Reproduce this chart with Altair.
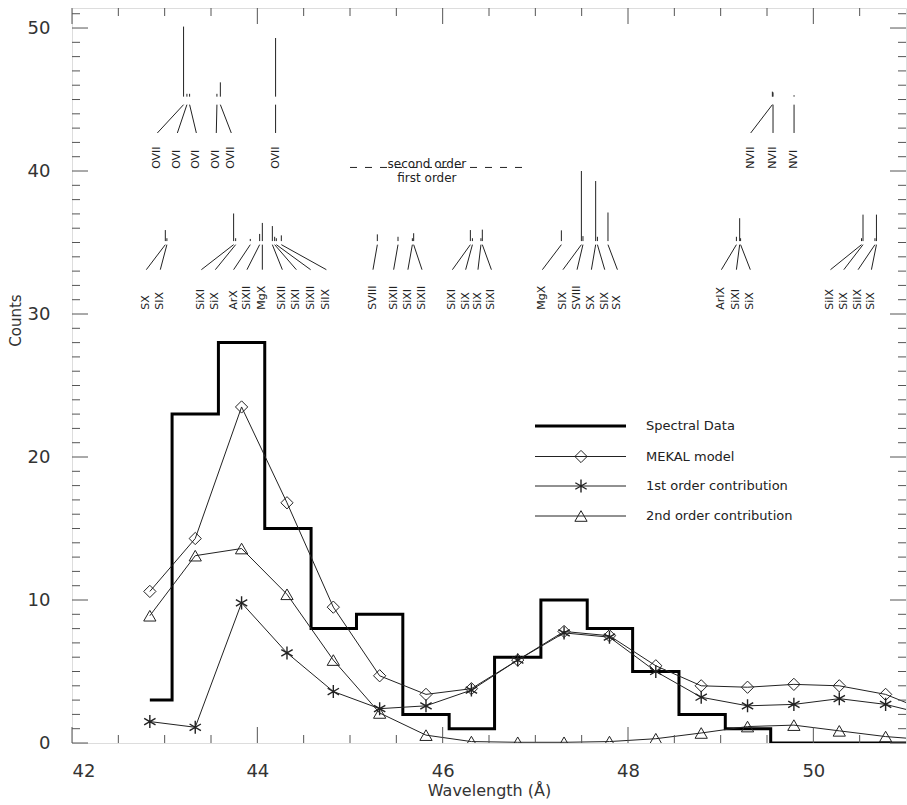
import altair as alt
import pandas as pd

# ---------------- data ----------------
# Spectral data histogram (bin edges in Angstrom, counts per bin)
hist_edges = [42.84, 43.08, 43.58, 44.08, 44.58, 45.07, 45.57, 46.07, 46.56,
              47.06, 47.56, 48.05, 48.55, 49.05, 49.54, 51.0]
hist_counts = [3, 23, 28, 15, 8, 9, 2, 1, 6, 10, 8, 5, 2, 1, 0]

# Model curves
model_wl = [42.84, 43.33, 43.83, 44.32, 44.82, 45.32, 45.82, 46.31, 46.81,
            47.31, 47.80, 48.30, 48.79, 49.29, 49.79, 50.28, 50.78, 51.28]
mekal = [10.6, 14.3, 23.5, 16.8, 9.5, 4.7, 3.4, 3.8, 5.8,
         7.8, 7.5, 5.4, 4.0, 3.9, 4.1, 4.0, 3.4, 2.1]
first_order = [1.5, 1.1, 9.8, 6.3, 3.6, 2.4, 2.6, 3.7, 5.8,
               7.7, 7.4, 5.0, 3.2, 2.6, 2.7, 3.1, 2.7, 1.9]
second_order = [8.9, 13.1, 13.6, 10.4, 5.8, 2.1, 0.55, 0.1, 0.05,
                0.05, 0.1, 0.3, 0.7, 1.15, 1.25, 0.85, 0.45, 0.2]

# Line identifications, second order (upper row)
upper_ion = ["OVII", "OVI", "OVI", "OVI", "OVII", "OVII", "NVII", "NVII", "NVI"]
upper_line_wl = [43.204, 43.240, 43.269, 43.564, 43.601, 44.197, 49.558, 49.565, 49.792]
upper_line_h = [4.9, 0.2, 0.2, 0.2, 1.0, 4.1, 0.35, 0.3, 0.1]
upper_label_wl = [42.921, 43.137, 43.342, 43.557, 43.719, 44.197, 49.324, 49.565, 49.792]

# Line identifications, first order (lower row)
lower_ion = ["SX", "SIX",
             "SiXI", "SiX", "ArX", "SiXII", "MgX", "SiXII", "SiXI", "SiXII", "SiIX",
             "SVIII", "SiXII", "SiXI", "SiXII",
             "SiXI", "SiX", "SiX", "SiXI",
             "MgX", "SIX", "SVIII", "SX", "SIX", "SX",
             "ArIX", "SiXI", "SiX",
             "SiIX", "SiX", "SiIX", "SiX"]
lower_line_wl = [43.007, 43.024,
                 43.744, 43.766, 43.924, 44.025, 44.054, 44.162, 44.187, 44.205, 44.259,
                 45.295, 45.518, 45.673, 45.687,
                 46.299, 46.321, 46.413, 46.428,
                 47.281, 47.497, 47.514, 47.651, 47.670, 47.784,
                 49.170, 49.205, 49.215,
                 50.520, 50.536, 50.665, 50.681]
lower_line_h = [0.77, 0.2,
                1.93, 0.2, 0.15, 0.5, 1.27, 1.05, 0.3, 0.2, 0.4,
                0.47, 0.3, 0.2, 0.55,
                0.77, 0.2, 0.2, 0.8,
                0.75, 4.9, 0.35, 4.2, 0.3, 2.0,
                0.3, 1.6, 0.2,
                0.2, 1.85, 0.2, 1.85]
lower_label_wl = [42.802, 42.953,
                  43.396, 43.547, 43.744, 43.888, 44.054, 44.270, 44.421, 44.575, 44.745,
                  45.248, 45.471, 45.625, 45.777,
                  46.105, 46.248, 46.381, 46.526,
                  47.076, 47.298, 47.450, 47.605, 47.749, 47.886,
                  49.008, 49.170, 49.320,
                  50.185, 50.329, 50.483, 50.627]

order_sep_wl = [45.0, 46.94]
order_sep_text_wl = 45.83
order_texts = ["second order", "first order"]

legend_labels = ["Spectral Data", "MEKAL model", "1st order contribution", "2nd order contribution"]

x_major = [42, 44, 46, 48, 50]
x_minor = [42.5, 43, 43.5, 44.5, 45, 45.5, 46.5, 47, 47.5, 48.5, 49, 49.5, 50.5]
y_major = [0, 10, 20, 30, 40, 50]
y_minor = [v for v in range(0, 52) if v % 10 != 0]

# ---------------- layout constants ----------------
W, H = 834, 735
XDOM, YDOM = [42, 51], [0, 51.4]
FONT = "DejaVu Sans"
INK = "#222222"
FRAME = "#555555"
TXT = "#333333"

UP_BASE, UP_CTOP, UP_CBOT, UP_LAB = 45.2, 44.64, 42.66, 40.15
LO_BASE, LO_CTOP, LO_CBOT, LO_LAB = 35.1, 34.85, 33.1, 30.3
SEP_LEVEL = 40.25

xs = alt.Scale(domain=XDOM, nice=False, zero=False)
ys = alt.Scale(domain=YDOM, nice=False, zero=False)

X_AXIS = alt.Axis(
    values=x_major, title="Wavelength (Å)", ticks=False, tickSize=0, domain=False,
    grid=False, labelFontSize=18, labelPadding=19, labelFont=FONT, labelColor=TXT,
    labelBaseline="top", titleFont=FONT, titleFontSize=16, titleFontWeight="normal",
    titleColor=TXT, titleY=47, titleBaseline="middle")
Y_AXIS = alt.Axis(
    values=y_major, title="Counts", ticks=False, tickSize=0, domain=False,
    grid=False, labelFontSize=18, labelPadding=22, labelFont=FONT, labelColor=TXT,
    labelBaseline="middle", titleFont=FONT, titleFontSize=15, titleFontWeight="normal",
    titleColor=TXT, titleX=-57, titleY=312, titleAngle=270,
    titleBaseline="middle", titleAlign="center")


def X(field):
    return alt.X(field, type="quantitative", scale=xs, axis=X_AXIS)


def Y(field):
    return alt.Y(field, type="quantitative", scale=ys, axis=Y_AXIS)


# ---------------- tables ----------------
hist_df = pd.DataFrame({"wl": hist_edges, "counts": hist_counts + [hist_counts[-1]]})
model_df = pd.DataFrame({"wl": model_wl, "mekal": mekal,
                         "first": first_order, "second": second_order})


def ident_df(ions, lwl, lh, labwl, base, ctop, cbot, lab):
    return pd.DataFrame({
        "ion": ions, "line": lwl, "label": labwl,
        "base": [base] * len(ions),
        "top": [base + h for h in lh],
        "ctop": [ctop] * len(ions), "cbot": [cbot] * len(ions),
        "lab": [lab] * len(ions),
    })


up_df = ident_df(upper_ion, upper_line_wl, upper_line_h, upper_label_wl,
                 UP_BASE, UP_CTOP, UP_CBOT, UP_LAB)
lo_df = ident_df(lower_ion, lower_line_wl, lower_line_h, lower_label_wl,
                 LO_BASE, LO_CTOP, LO_CBOT, LO_LAB)
ids_df = pd.concat([up_df, lo_df], ignore_index=True)

# ---------------- layers ----------------
hist = alt.Chart(hist_df).mark_line(
    interpolate="step-after", color="black", strokeWidth=3, clip=True
).encode(x=X("wl"), y=Y("counts"))


def model_line(field):
    return alt.Chart(model_df).mark_line(color=INK, strokeWidth=1, clip=True).encode(
        x=X("wl"), y=Y(field))


ASTER = "M0,-1L0,1M-0.87,-0.5L0.87,0.5M-0.87,0.5L0.87,-0.5"


def model_pts(field, shape, size, sw=1):
    return alt.Chart(model_df).mark_point(
        shape=shape, size=size, filled=False, color=INK, strokeWidth=sw,
        opacity=1, clip=True
    ).encode(x=X("wl"), y=Y(field))


models = [
    model_line("mekal"), model_pts("mekal", "diamond", 150),
    model_line("first"), model_pts("first", ASTER, 170, 1.4),
    model_line("second"), model_pts("second", "triangle-up", 150),
]

# identification marks
id_base = alt.Chart(ids_df)
id_vert = id_base.mark_rule(color=INK, strokeWidth=1).encode(
    x=X("line"), y=Y("base"), y2="top:Q")
id_conn = id_base.mark_rule(color=INK, strokeWidth=1).encode(
    x=X("line"), x2="label:Q", y=Y("ctop"), y2="cbot:Q")
id_text = id_base.mark_text(
    angle=270, align="left", baseline="middle", font=FONT, fontSize=11, color=INK
).encode(x=X("label"), y=Y("lab"), text="ion:N")

sep_df = pd.DataFrame({"x": [order_sep_wl[0]], "x2": [order_sep_wl[1]], "y": [SEP_LEVEL]})
sep = alt.Chart(sep_df).mark_rule(color=INK, strokeWidth=1, strokeDash=[7, 8]).encode(
    x=X("x"), x2="x2:Q", y=Y("y"))
sep_txt_df = pd.DataFrame({"x": [order_sep_text_wl] * 2, "y": [SEP_LEVEL] * 2,
                           "t": order_texts, "k": ["up", "down"]})
sep_up = alt.Chart(sep_txt_df).transform_filter("datum.k == 'up'").mark_text(
    font=FONT, fontSize=12, color=INK, baseline="alphabetic", dy=1
).encode(x=X("x"), y=Y("y"), text="t:N")
sep_dn = alt.Chart(sep_txt_df).transform_filter("datum.k == 'down'").mark_text(
    font=FONT, fontSize=12, color=INK, baseline="top", dy=6
).encode(x=X("x"), y=Y("y"), text="t:N")


# axis ticks (IDL style, inside the box, on all four sides)
def tick_layer(vals, horizontal_axis, side, length):
    df = pd.DataFrame({"v": vals})
    c = alt.Chart(df).mark_rule(color=FRAME, strokeWidth=1)
    if horizontal_axis:
        y0 = H if side == "bottom" else 0
        y1 = H - length if side == "bottom" else length
        return c.encode(x=X("v"), y=alt.value(y0), y2=alt.value(y1))
    x0 = 0 if side == "left" else W
    x1 = length if side == "left" else W - length
    return c.encode(y=Y("v"), x=alt.value(x0), x2=alt.value(x1))


ticks = []
for side in ["bottom", "top"]:
    ticks.append(tick_layer(x_major, True, side, 16))
    ticks.append(tick_layer(x_minor, True, side, 8))
for side in ["left", "right"]:
    ticks.append(tick_layer(y_major, False, side, 16))
    ticks.append(tick_layer(y_minor, False, side, 8))

# legend (drawn by hand, IDL style)
LEG_X0, LEG_X1, LEG_XM, LEG_XT = 463, 554, 509, 574
LEG_Y = [418, 448.5, 478, 508]
leg_shapes = [None, "diamond", ASTER, "triangle-up"]
one = pd.DataFrame({"a": [0]})
legend = []
for i, lab in enumerate(legend_labels):
    legend.append(alt.Chart(one).mark_rule(
        color="black" if i == 0 else INK, strokeWidth=3 if i == 0 else 1
    ).encode(x=alt.value(LEG_X0), x2=alt.value(LEG_X1), y=alt.value(LEG_Y[i])))
    if leg_shapes[i]:
        legend.append(alt.Chart(one).mark_point(
            shape=leg_shapes[i], size=170 if i == 2 else 150, filled=False, color=INK,
            strokeWidth=1.4 if i == 2 else 1, opacity=1
        ).encode(x=alt.value(LEG_XM), y=alt.value(LEG_Y[i])))
    legend.append(alt.Chart(one).mark_text(
        text=lab, align="left", baseline="middle", font=FONT, fontSize=13, color=INK
    ).encode(x=alt.value(LEG_XT), y=alt.value(LEG_Y[i])))

chart = alt.layer(
    hist, *models, id_vert, id_conn, id_text, sep, sep_up, sep_dn, *ticks, *legend
).properties(
    width=W, height=H,
    padding={"left": 72, "top": 8, "right": 1, "bottom": 62},
    autosize=alt.AutoSizeParams(type="none"),
).configure_view(
    stroke=FRAME, strokeWidth=1
).configure(background="white")

chart.save("out.html", embed_options={"renderer": "svg", "actions": False})
